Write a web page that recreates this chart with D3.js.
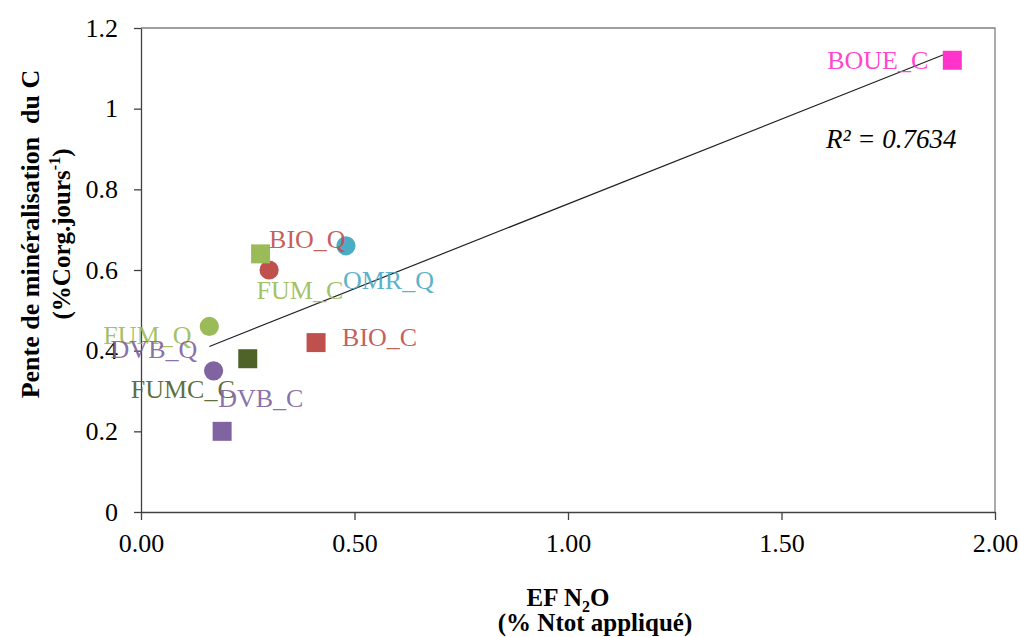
<!DOCTYPE html>
<html><head><meta charset="utf-8">
<script src="https://cdn.jsdelivr.net/npm/d3@7"></script>
<style>
html,body{margin:0;padding:0;background:#fff;}
svg text{font-family:"Liberation Serif","Times New Roman",serif;}
</style></head>
<body><svg id="c" width="1020" height="637"></svg>
<script>
// ---- data ----
const names   = ["BOUE_C","OMR_Q","BIO_Q","FUM_C","FUM_Q","BIO_C","FUMC_C","DVB_Q","DVB_C"];
const efN2O   = [1.90, 0.48, 0.30, 0.28, 0.16, 0.41, 0.25, 0.17, 0.19];
const pente   = [1.12, 0.66, 0.60, 0.64, 0.46, 0.42, 0.38, 0.35, 0.20];
const shapes  = ["square","circle","circle","square","circle","square","square","circle","square"];
const colors  = ["#FF33CC","#4BACC6","#C0504D","#9BBB59","#9BBB59","#C0504D","#4F6228","#8064A2","#8064A2"];
const xTicks = [0, 0.5, 1, 1.5, 2];
const xTickLabels = ["0.00","0.50","1.00","1.50","2.00"];
const yTicks = [0, 0.2, 0.4, 0.6, 0.8, 1, 1.2];
const yTickLabels = ["0","0.2","0.4","0.6","0.8","1","1.2"];
const r2Text = "R² = 0.7634";
// label placement (pixel offsets from the marker, layout only)
const labelDx = [-24, -3, 0, -4, -106, 26, -117, -103, -4];
const labelDy = [9, 43, -22, 45.5, 18, 3, 39, -13, -24];
const labelAnchor = ["end","start","start","start","start","start","start","start","start"];

const svg = d3.select("#c");
const x = d3.scaleLinear().domain([0,2]).range([141,995]);
const y = d3.scaleLinear().domain([0,1.2]).range([512,28]);

// frame (top/right)
svg.append("path").attr("d",`M${x(0)},${y(1.2)}H${x(2)}V${y(0)}`)
  .attr("fill","none").attr("stroke","#7f7f7f").attr("stroke-width",1.3);

// axes
const xAxis = d3.axisBottom(x).tickValues(xTicks).tickFormat((d,i)=>xTickLabels[i]).tickSize(8).tickPadding(14).tickSizeOuter(0);
const yAxis = d3.axisLeft(y).tickValues(yTicks).tickFormat((d,i)=>yTickLabels[i]).tickSize(7).tickPadding(16).tickSizeOuter(0);
const gx = svg.append("g").attr("transform",`translate(0,${y(0)})`).call(xAxis);
const gy = svg.append("g").attr("transform",`translate(${x(0)},0)`).call(yAxis);
[gx,gy].forEach(g=>{
  g.selectAll("path,line").attr("stroke","#404040").attr("stroke-width",1.3);
  g.selectAll("text").attr("font-size",26).attr("fill","#000").attr("font-family","Liberation Serif");
});

// trendline (least squares)
const mx = d3.mean(efN2O), my = d3.mean(pente);
let sxy=0, sxx=0;
efN2O.forEach((v,i)=>{ sxy += (v-mx)*(pente[i]-my); sxx += (v-mx)*(v-mx); });
const slope = sxy/sxx, icpt = my - slope*mx;
const [x0,x1] = d3.extent(efN2O);
svg.append("line").attr("x1",x(x0)).attr("y1",y(icpt+slope*x0))
  .attr("x2",x(x1)).attr("y2",y(icpt+slope*x1))
  .attr("stroke","#222").attr("stroke-width",1.2);

// markers
const idx = d3.range(names.length);
svg.append("g").selectAll("path").data(idx).join("path")
  .attr("transform",i=>`translate(${x(efN2O[i])},${y(pente[i])})`)
  .attr("d",i=> shapes[i]==="square" ? d3.symbol(d3.symbolSquare, 361)() : d3.symbol(d3.symbolCircle, 290)())
  .attr("fill",i=>colors[i]);

// data labels
svg.append("g").selectAll("text").data(idx).join("text")
  .attr("x",i=>x(efN2O[i])+labelDx[i])
  .attr("y",i=>y(pente[i])+labelDy[i])
  .attr("text-anchor",i=>labelAnchor[i])
  .attr("font-size",26)
  .attr("fill",i=>colors[i])
  .attr("fill-opacity",0.92)
  .text(i=>names[i]);

// R²
svg.append("text").attr("x",826).attr("y",148).attr("font-size",27)
  .attr("font-style","italic").attr("fill","#000").text(r2Text);

// axis titles
const yt = svg.append("g").attr("transform","translate(0,234) rotate(-90)");
yt.append("text").attr("x",0).attr("y",39).attr("text-anchor","middle")
  .attr("font-size",26).attr("font-weight","bold").style("white-space","pre")
  .text("Pente de minéralisation  du C");
const yt2 = yt.append("text").attr("x",0).attr("y",70).attr("text-anchor","middle")
  .attr("font-size",25).attr("font-weight","bold");
yt2.append("tspan").text("(%Corg.jours");
yt2.append("tspan").attr("font-size",16).attr("dy",-10).text("-1");
yt2.append("tspan").attr("dy",10).text(")");

const xt = svg.append("text").attr("x",568).attr("y",606).attr("text-anchor","middle")
  .attr("font-size",25).attr("font-weight","bold");
xt.append("tspan").text("EF N");
xt.append("tspan").attr("font-size",16).attr("dy",6).text("2");
xt.append("tspan").attr("dy",-6).text("O");
svg.append("text").attr("x",595).attr("y",631).attr("text-anchor","middle")
  .attr("font-size",25).attr("font-weight","bold").text("(% Ntot appliqué)");
</script>
</body></html>
